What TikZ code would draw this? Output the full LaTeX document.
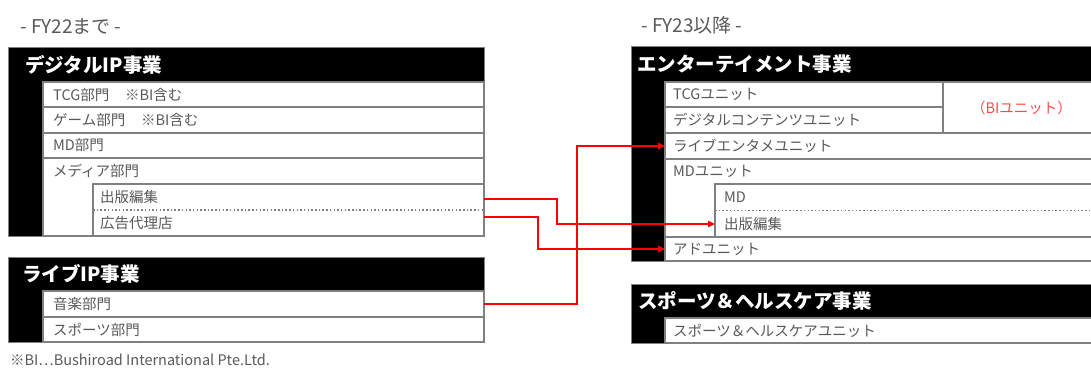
\documentclass[tikz,border=0pt]{standalone}
\usepackage{fontspec}
\setmainfont{Noto Sans CJK JP}
\usetikzlibrary{arrows.meta}
\definecolor{txtgray}{HTML}{595959}
\definecolor{linegray}{HTML}{808080}
\definecolor{arrred}{HTML}{FF0000}
\definecolor{bired}{HTML}{FF4B4B}
\begin{document}
\begin{tikzpicture}[x=1pt,y=-1pt,
  blk/.style={fill=black, draw=linegray, line width=1pt, outer sep=0pt, inner sep=0pt, anchor=north west},
  rowbox/.style={fill=white, draw=linegray, line width=1.3pt, outer sep=0pt, inner sep=0pt, anchor=north west},
  cell/.style={outer sep=0pt, inner sep=0pt, anchor=north west},
  rowtxt/.style={text=txtgray, font=\fontsize{14.5}{16}\selectfont, anchor=west, inner sep=0pt},
  hdtxt/.style={text=white, font=\bfseries\fontsize{19.5}{21}\selectfont, anchor=west, inner sep=0pt},
  ttl/.style={text=txtgray, font=\fontsize{19}{21}\selectfont, anchor=west, inner sep=0pt},
  dotline/.style={draw=linegray, line width=1.3pt, dash pattern=on 1.5pt off 2.2pt},
  flow/.style={draw=arrred, line width=1.4pt, -{Triangle[length=7pt,width=6.5pt]}}
]
\useasboundingbox (0,0) rectangle (1091,369);
\clip (0,0) rectangle (1091,369);

% titles
\node[ttl] (t1) at (20,26) {- FY22まで -};
\node[ttl] (t2) at (641,25) {- FY23以降 -};

% ---------- Block 1: デジタルIP事業 ----------
\node[blk, minimum width=476pt, minimum height=188pt] (dip) at (8,48) {};
\node[hdtxt] (dipH) at (25,65) {デジタルIP事業};
\node[rowbox, minimum width=441pt, minimum height=25pt] (tcgL) at (43,82) {};
\node[rowtxt] at ([xshift=10pt]tcgL.west) {TCG部門\hspace{1.1em}※BI含む};
\node[rowbox, minimum width=441pt, minimum height=26pt] (gameL) at (43,107) {};
\node[rowtxt] at ([xshift=10pt]gameL.west) {ゲーム部門\hspace{1.1em}※BI含む};
\node[rowbox, minimum width=441pt, minimum height=25pt] (mdL) at (43,133) {};
\node[rowtxt] at ([xshift=10pt]mdL.west) {MD部門};
\node[rowbox, minimum width=441pt, minimum height=78pt] (mediaL) at (43,158) {};
\node[rowtxt] at ([xshift=10pt]mediaL.west |- 0,171) {メディア部門};
\node[rowbox, minimum width=391pt, minimum height=52pt] (subL) at (93,184) {};
\draw[dotline] (subL.west) -- (subL.east);
\node[cell, minimum width=391pt, minimum height=26pt] (hensyuL) at (93,184) {};
\node[rowtxt] at ([xshift=7pt]hensyuL.west) {出版編集};
\node[cell, minimum width=391pt, minimum height=26pt] (koukokuL) at (93,210) {};
\node[rowtxt] at ([xshift=7pt]koukokuL.west) {広告代理店};

% ---------- Block 2: ライブIP事業 ----------
\node[blk, minimum width=476pt, minimum height=85pt] (lip) at (8,257) {};
\node[hdtxt] (lipH) at (22,274) {ライブIP事業};
\node[rowbox, minimum width=441pt, minimum height=26pt] (ongakuL) at (43,291) {};
\node[rowtxt] at ([xshift=10pt]ongakuL.west) {音楽部門};
\node[rowbox, minimum width=441pt, minimum height=25pt] (spL) at (43,317) {};
\node[rowtxt] at ([xshift=10pt]spL.west) {スポーツ部門};

% footnote
\node[rowtxt, font=\fontsize{14.5}{16}\selectfont] (fn) at (10,360) {※BI…Bushiroad International Pte.Ltd.};

% ---------- Block 3: エンターテイメント事業 ----------
\node[blk, minimum width=469pt, minimum height=214pt] (ent) at (631,47) {};
\node[hdtxt] (entH) at (637,64) {エンターテイメント事業};
\node[rowbox, minimum width=278pt, minimum height=25pt] (tcgR) at (665,82) {};
\node[rowtxt] at ([xshift=8pt]tcgR.west) {TCGユニット};
\node[rowbox, minimum width=278pt, minimum height=26pt] (digR) at (665,107) {};
\node[rowtxt] at ([xshift=8pt]digR.west) {デジタルコンテンツユニット};
\node[rowbox, minimum width=157pt, minimum height=51pt] (biR) at (943,82) {};
\node[text=bired, font=\fontsize{14.5}{16}\selectfont, inner sep=0pt] at (biR.center) {（BIユニット）};
\node[rowbox, minimum width=435pt, minimum height=26pt] (liveR) at (665,133) {};
\node[rowtxt] at ([xshift=8pt]liveR.west) {ライブエンタメユニット};
\node[rowbox, minimum width=435pt, minimum height=78pt] (mdR) at (665,159) {};
\node[rowtxt] at ([xshift=8pt]mdR.west |- 0,171) {MDユニット};
\node[rowbox, minimum width=385pt, minimum height=53pt] (subR) at (715,184) {};
\draw[dotline] (subR.west) -- (subR.east);
\node[cell, minimum width=385pt, minimum height=27pt] (mdsubR) at (715,184) {};
\node[rowtxt] at ([xshift=9pt]mdsubR.west) {MD};
\node[cell, minimum width=385pt, minimum height=26pt] (hensyuR) at (715,211) {};
\node[rowtxt] at ([xshift=9pt]hensyuR.west) {出版編集};
\node[rowbox, minimum width=435pt, minimum height=24pt] (adR) at (665,237) {};
\node[rowtxt] at ([xshift=8pt]adR.west) {アドユニット};

% ---------- Block 4: スポーツ＆ヘルスケア事業 ----------
\node[blk, minimum width=469pt, minimum height=59pt] (shc) at (631,284) {};
\node[hdtxt] (shcH) at (638,301) {スポーツ＆ヘルスケア事業};
\node[rowbox, minimum width=435pt, minimum height=25pt] (spR) at (665,318) {};
\node[rowtxt] at ([xshift=8pt]spR.west) {スポーツ＆ヘルスケアユニット};

% ---------- arrows ----------
\draw[flow] ([yshift=-2pt]hensyuL.east) -- ++(73,0) |- (hensyuR.west);
\draw[flow] ([yshift=6pt]koukokuL.east) -- ++(54,0) |- (adR.west);
\draw[flow] (ongakuL.east) -- ++(93,0) |- (liveR.west);
\end{tikzpicture}
\end{document}
